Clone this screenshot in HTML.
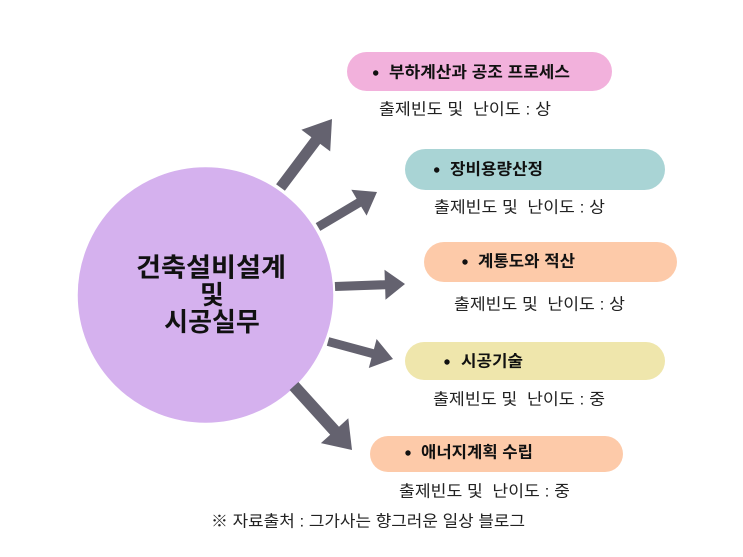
<!DOCTYPE html>
<html>
<head>
<meta charset="utf-8">
<style>
html,body{margin:0;padding:0;background:#fff;}
svg{display:block;}
text{font-family:"Liberation Sans","Noto Sans CJK KR",sans-serif;white-space:pre;}
</style>
</head>
<body>
<svg width="743" height="557" viewBox="0 0 743 557" xmlns="http://www.w3.org/2000/svg">
  <rect x="0" y="0" width="743" height="557" fill="#ffffff"/>

  <!-- central circle -->
  <circle cx="205.5" cy="295" r="128.5" fill="#d5b1ee" stroke="#ffffff" stroke-width="1.5"/>
  <g font-weight="bold" font-size="26" fill="#111" text-anchor="middle" dominant-baseline="central">
    <text x="211" y="267.5" textLength="150" lengthAdjust="spacingAndGlyphs">건축설비설계</text>
    <text x="212" y="295">및</text>
    <text x="212" y="322">시공실무</text>
  </g>

  <!-- arrows -->
  <g fill="#64626f">
    <polygon points="276.1,184.2 311.4,137.3 301.4,129.8 332,119 330.2,151.4 320.2,143.9 284.9,190.8"/>
    <polygon points="315.7,223.1 356.6,198.8 351.3,189.8 377,192 366.6,215.6 361.2,206.6 320.3,230.9"/>
    <polygon points="334.8,282.0 384.8,280.2 384.5,269.7 405,284 385.5,299.7 385.2,289.2 335.2,291.0"/>
    <polygon points="329.2,337.2 373.9,349.2 376.6,339.0 393,359 368.8,368.0 371.5,357.9 326.8,345.8"/>
    <polygon points="298.4,382.0 339.0,426.7 348.3,418.3 352,450 320.9,443.1 330.2,434.7 289.6,390.0"/>
  </g>

  <!-- pills -->
  <rect x="347" y="52" width="265" height="39" rx="19.5" fill="#f2b1dc"/>
  <rect x="405" y="149" width="260" height="41" rx="20.5" fill="#a9d4d5"/>
  <rect x="424" y="242" width="253" height="40" rx="20" fill="#fdcaa9"/>
  <rect x="405" y="342" width="260" height="38" rx="19" fill="#efe6ac"/>
  <rect x="370" y="436" width="253" height="36" rx="18" fill="#fdcaa9"/>

  <!-- bullets -->
  <g fill="#111">
    <circle cx="375.7" cy="73" r="2.7"/>
    <circle cx="436.7" cy="170" r="2.7"/>
    <circle cx="465" cy="262" r="2.7"/>
    <circle cx="447" cy="362" r="2.7"/>
    <circle cx="408" cy="453" r="2.7"/>
  </g>

  <!-- pill labels -->
  <g font-weight="bold" font-size="16" fill="#111" dominant-baseline="central">
    <text x="389" y="73" textLength="181" lengthAdjust="spacingAndGlyphs">부하계산과 공조 프로세스</text>
    <text x="450" y="170" textLength="93" lengthAdjust="spacingAndGlyphs">장비용량산정</text>
    <text x="478" y="262" textLength="97" lengthAdjust="spacingAndGlyphs">계통도와 적산</text>
    <text x="461" y="362" textLength="62" lengthAdjust="spacingAndGlyphs">시공기술</text>
    <text x="421" y="453" textLength="112" lengthAdjust="spacingAndGlyphs">애너지계획 수립</text>
  </g>

  <!-- sub labels -->
  <g font-size="16" fill="#222" dominant-baseline="central">
    <text x="379" y="110" textLength="172" lengthAdjust="spacingAndGlyphs">출제빈도 및&#160;&#160;난이도 : 상</text>
    <text x="434" y="208" textLength="171" lengthAdjust="spacingAndGlyphs">출제빈도 및&#160;&#160;난이도 : 상</text>
    <text x="454" y="305" textLength="171" lengthAdjust="spacingAndGlyphs">출제빈도 및&#160;&#160;난이도 : 상</text>
    <text x="433" y="400" textLength="172" lengthAdjust="spacingAndGlyphs">출제빈도 및&#160;&#160;난이도 : 중</text>
    <text x="399" y="492" textLength="171" lengthAdjust="spacingAndGlyphs">출제빈도 및&#160;&#160;난이도 : 중</text>
    <text x="211" y="522" textLength="314" lengthAdjust="spacingAndGlyphs">※ 자료출처 : 그가사는 향그러운 일상 블로그</text>
  </g>
</svg>
</body>
</html>
